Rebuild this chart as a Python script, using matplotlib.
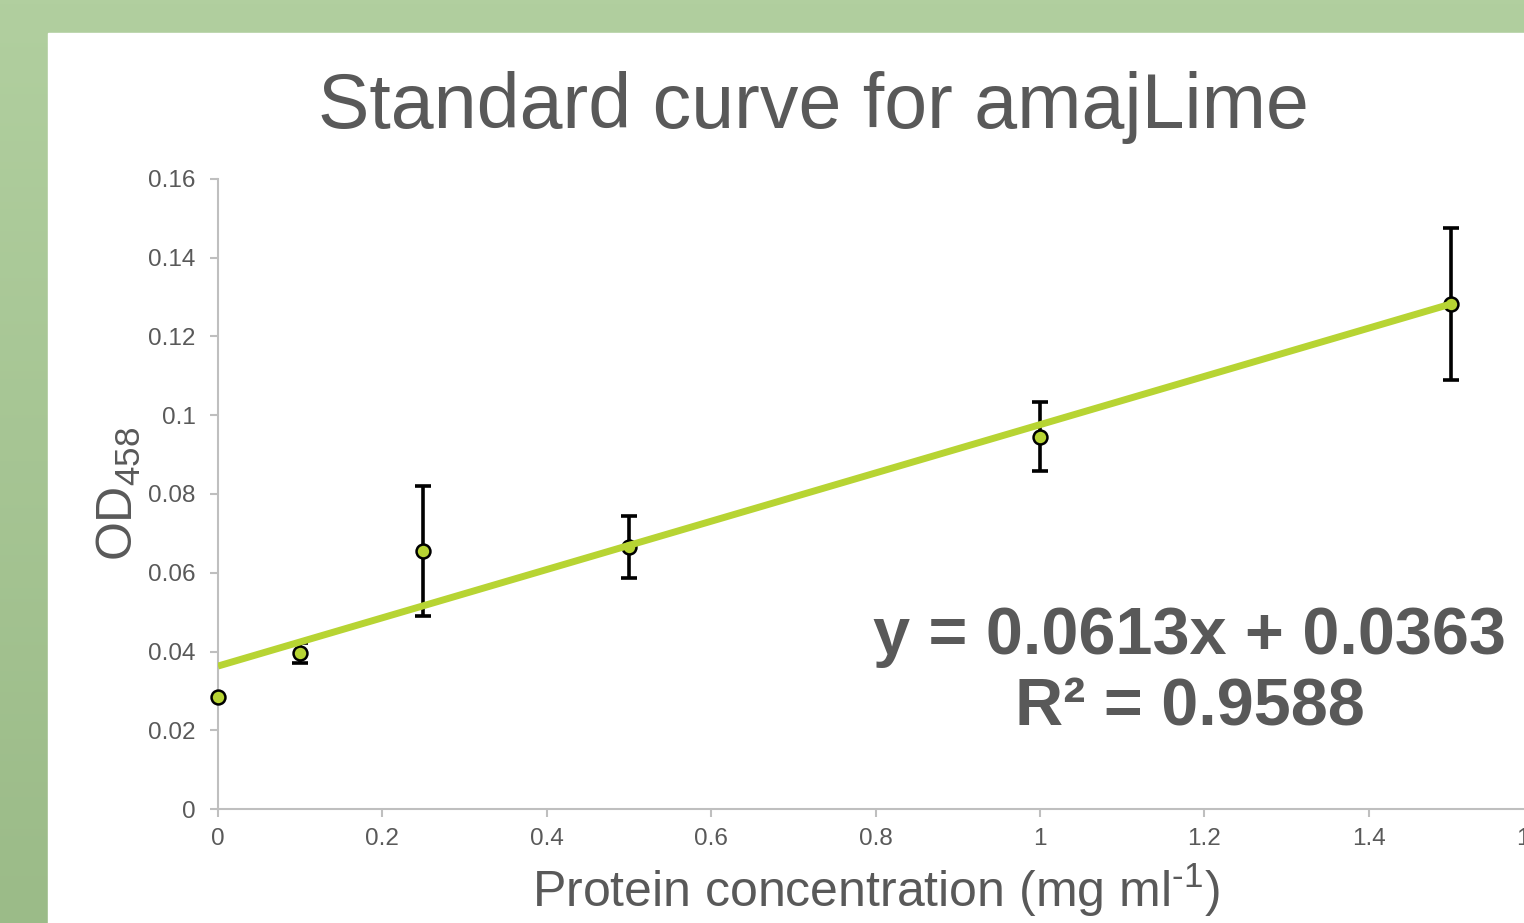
import numpy as np
import matplotlib
matplotlib.use('Agg')
import matplotlib.pyplot as plt
from matplotlib.ticker import FuncFormatter
from matplotlib.patches import Rectangle

plt.rcParams['font.family'] = ['Liberation Sans', 'DejaVu Sans']
plt.rcParams['mathtext.fontset'] = 'custom'
plt.rcParams['mathtext.rm'] = 'Liberation Sans'

# datos
conc = [0, 0.1, 0.25, 0.5, 1.0, 1.5]
od = [0.0285, 0.0396, 0.0655, 0.0665, 0.0946, 0.1283]
err = [0.0, 0.0025, 0.0166, 0.0079, 0.0087, 0.0193]
pendiente = 0.0613
intercepto = 0.0363
r2 = 0.9588
xticks = [0, 0.2, 0.4, 0.6, 0.8, 1.0, 1.2, 1.4, 1.6]
yticks = [0, 0.02, 0.04, 0.06, 0.08, 0.1, 0.12, 0.14, 0.16]

gris = '#595959'
verde = '#b7d433'

fig = plt.figure(figsize=(15.24, 9.23), dpi=100)

# fondo verde con degradado (claro arriba, oscuro abajo) y panel blanco
fondo = fig.add_axes([0, 0, 1, 1])
grad = np.linspace(0, 1, 256).reshape(-1, 1)
cm = matplotlib.colors.LinearSegmentedColormap.from_list('g', ['#b1cf9f', '#9bbb88'])
fondo.imshow(grad, aspect='auto', extent=[0, 1, 0, 1], origin='upper', cmap=cm)
fondo.add_patch(Rectangle((48 / 1524, 0), 1, 1 - 33 / 923, color='white'))
fondo.set_xlim(0, 1)
fondo.set_ylim(0, 1)
fondo.axis('off')

ax = fig.add_axes([218 / 1524, 114 / 923, 1315 / 1524, 630 / 923])
ax.set_facecolor('none')

ax.errorbar(conc, od, yerr=err, fmt='none', ecolor='black', elinewidth=2.6,
            capsize=5.5, capthick=2.6, zorder=2)
ax.plot(conc, od, 'o', markersize=10, markerfacecolor=verde, markeredgecolor='black',
        markeredgewidth=1.8, zorder=3, clip_on=False)
xl = np.array([0, 1.5])
ax.plot(xl, pendiente * xl + intercepto, color=verde, lw=5, zorder=4, solid_capstyle='butt')

ax.set_xlim(0, 1.6)
ax.set_ylim(0, 0.16)
ax.set_xticks(xticks)
ax.set_yticks(yticks)
fmt = FuncFormatter(lambda v, p: '%g' % v)
ax.xaxis.set_major_formatter(fmt)
ax.yaxis.set_major_formatter(fmt)
for s in ['top', 'right']:
    ax.spines[s].set_visible(False)
for s in ['left', 'bottom']:
    ax.spines[s].set_color('#bfbfbf')
    ax.spines[s].set_linewidth(1.5)
ax.tick_params(axis='both', colors='#bfbfbf', labelcolor=gris, labelsize=17.5,
               length=6, width=1.5, direction='out')
ax.tick_params(axis='x', pad=8)
ax.tick_params(axis='y', pad=10)

ax.set_xlabel('Protein concentration (mg ml$^{\\mathregular{\u2010 1}}$)', fontsize=36,
              color=gris, labelpad=8)
ax.set_ylabel(r'OD$_\mathregular{458}$', fontsize=36, color=gris, labelpad=4)

fig.text(813 / 1524, 1 - 128 / 923, 'Standard curve for amajLime', fontsize=55.5,
         color=gris, ha='center', va='baseline')

ax.text(1.1825, 0.0345, 'y = %.4fx + %.4f\nR² = %.4f' % (pendiente, intercepto, r2),
        fontsize=48, fontweight='bold', color=gris, ha='center', va='center',
        linespacing=1.2, zorder=5)

fig.savefig('out.png', dpi=100)
